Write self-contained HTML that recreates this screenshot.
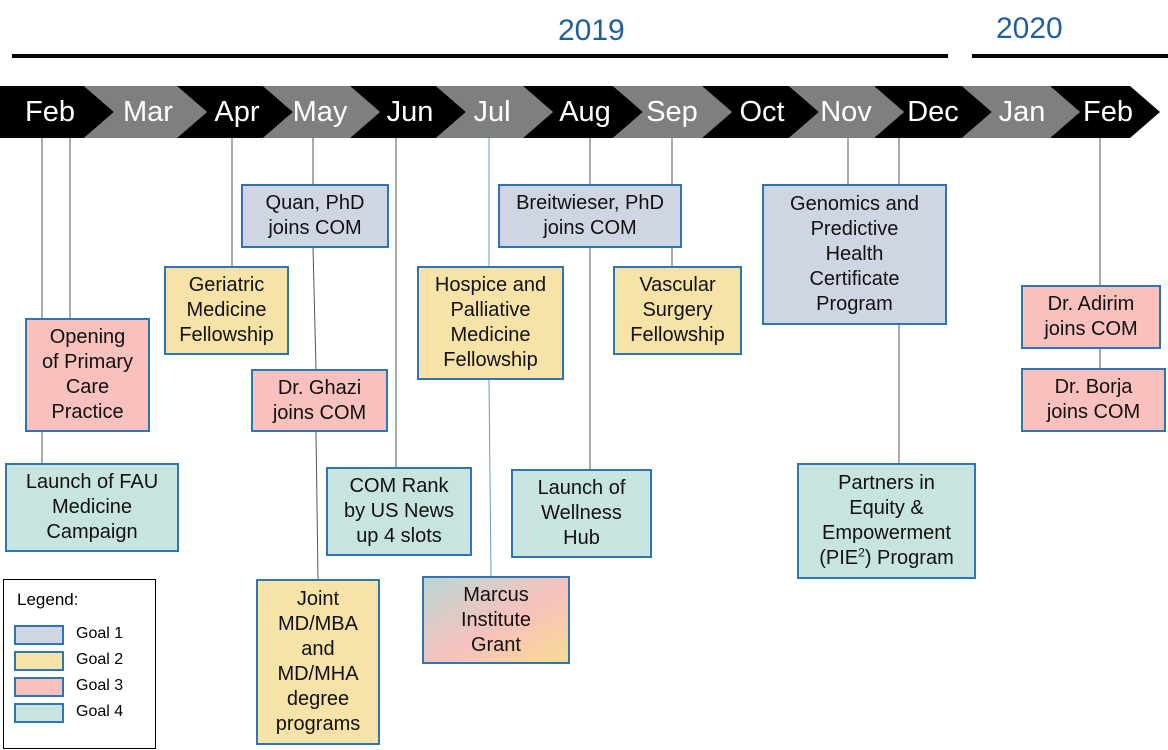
<!DOCTYPE html>
<html><head><meta charset="utf-8"><style>
body{margin:0;width:1168px;height:750px;background:#fff;position:relative;overflow:hidden;font-family:"Liberation Sans",Arial,sans-serif}
.b{position:absolute;box-sizing:border-box;border:2px solid #2e75b6;display:flex;align-items:center;justify-content:center;text-align:center;font-size:20px;line-height:25px;color:#111}
.g1{background:#cfd5e3}.g2{background:#f7e2a8}.g3{background:#f8c1bd}.g4{background:#c8e4de}
.yr{position:absolute;font-size:30px;color:#1f5f9e}
.lg{position:absolute;left:3px;top:579px;width:153px;height:170px;box-sizing:border-box;border:1.5px solid #000;font-size:17px}
.sw{position:absolute;left:10px;width:50px;height:20px;box-sizing:border-box;border:2px solid #2e75b6}
.st{position:absolute;left:72px;font-size:16px}
</style></head><body>
<div class="yr" style="left:558px;top:14px">2019</div>
<div class="yr" style="left:996px;top:12px">2020</div>
<svg width="1168" height="750" style="position:absolute;left:0;top:0">
<rect x="12" y="54" width="936" height="4" fill="#000"/>
<rect x="972" y="54" width="196" height="4" fill="#000"/>
<g id="ch"></g>
<g stroke="#555" stroke-width="1">
<line x1="42" y1="138" x2="42" y2="318"/><line x1="42" y1="432" x2="42" y2="463"/>
<line x1="70" y1="138" x2="70" y2="318"/>
<line x1="232" y1="138" x2="232" y2="266"/>
<line x1="313" y1="138" x2="313" y2="184"/><line x1="313" y1="248" x2="316" y2="369"/><line x1="316" y1="432" x2="318" y2="579"/>
<line x1="396" y1="138" x2="396" y2="467"/>
<line x1="489" y1="138" x2="489" y2="266" stroke="#6a9ac8"/><line x1="489" y1="380" x2="491" y2="576" stroke="#6a9ac8"/>
<line x1="590" y1="138" x2="590" y2="184"/><line x1="590" y1="248" x2="590" y2="469"/>
<line x1="672" y1="138" x2="672" y2="184"/><line x1="672" y1="248" x2="672" y2="266"/>
<line x1="848" y1="138" x2="848" y2="184"/>
<line x1="899" y1="138" x2="899" y2="184"/><line x1="899" y1="325" x2="899" y2="463"/>
<line x1="1100" y1="138" x2="1100" y2="285"/><line x1="1100" y1="349" x2="1100" y2="368"/>
</g>
<defs><linearGradient id="mg" x1="0" y1="0" x2="1" y2="1"><stop offset="0" stop-color="#b8d8d4"/><stop offset="0.55" stop-color="#f8c1bd"/><stop offset="1" stop-color="#f6dc90"/></linearGradient></defs>
<rect x="423" y="577" width="146" height="86" fill="url(#mg)" stroke="#2e75b6" stroke-width="2"/>
</svg>
<script>
var b=[-20,99,192,278,365,451,538,628,717,804,889,977,1065,1145];
var m=["Feb","Mar","Apr","May","Jun","Jul","Aug","Sep","Oct","Nov","Dec","Jan","Feb"];
var lx=[50,148,237,320,410,492,585,672,762,846,933,1022,1108];
var s="";
for(var i=0;i<13;i++){var L=b[i],R=b[i+1],c=i%2?"#7f7f7f":"#000";
s+='<polygon fill="'+c+'" points="'+(L-15)+',86 '+(R-15)+',86 '+(R+15)+',112 '+(R-15)+',138 '+(L-15)+',138 '+(L+15)+',112"/>';
s+='<text x="'+lx[i]+'" y="121" fill="#fff" font-size="29" text-anchor="middle" font-family="Liberation Sans,sans-serif">'+m[i]+'</text>';}
document.getElementById("ch").innerHTML=s;
</script>
<div class="b g1" style="left:241px;top:184px;width:148px;height:64px"><div>Quan, PhD<br>joins COM</div></div>
<div class="b g2" style="left:164px;top:266px;width:125px;height:89px"><div>Geriatric<br>Medicine<br>Fellowship</div></div>
<div class="b g3" style="left:25px;top:318px;width:125px;height:114px"><div>Opening<br>of Primary<br>Care<br>Practice</div></div>
<div class="b g4" style="left:5px;top:463px;width:174px;height:89px"><div>Launch of FAU<br>Medicine<br>Campaign</div></div>
<div class="b g3" style="left:251px;top:369px;width:137px;height:63px"><div>Dr. Ghazi<br>joins COM</div></div>
<div class="b g4" style="left:326px;top:467px;width:146px;height:89px"><div>COM Rank<br>by US News<br>up 4 slots</div></div>
<div class="b g2" style="left:256px;top:579px;width:124px;height:166px"><div>Joint<br>MD/MBA<br>and<br>MD/MHA<br>degree<br>programs</div></div>
<div class="b g1" style="left:498px;top:184px;width:184px;height:64px"><div>Breitwieser, PhD<br>joins COM</div></div>
<div class="b g2" style="left:417px;top:266px;width:147px;height:114px"><div>Hospice and<br>Palliative<br>Medicine<br>Fellowship</div></div>
<div class="b g2" style="left:613px;top:266px;width:129px;height:89px"><div>Vascular<br>Surgery<br>Fellowship</div></div>
<div class="b g4" style="left:511px;top:469px;width:141px;height:89px"><div>Launch of<br>Wellness<br>Hub</div></div>
<div class="b" style="left:422px;top:576px;width:148px;height:88px;border:none"><div>Marcus<br>Institute<br>Grant</div></div>
<div class="b g1" style="left:762px;top:184px;width:185px;height:141px"><div>Genomics and<br>Predictive<br>Health<br>Certificate<br>Program</div></div>
<div class="b g4" style="left:797px;top:463px;width:179px;height:116px"><div>Partners in<br>Equity &amp;<br>Empowerment<br>(PIE<sup style="font-size:12px;line-height:0">2</sup>) Program</div></div>
<div class="b g3" style="left:1021px;top:285px;width:140px;height:64px"><div>Dr. Adirim<br>joins COM</div></div>
<div class="b g3" style="left:1021px;top:368px;width:145px;height:64px"><div>Dr. Borja<br>joins COM</div></div>
<div class="lg">
<div style="position:absolute;left:13px;top:10px">Legend:</div>
<div class="sw g1" style="top:45px"></div><div class="st" style="top:45px">Goal 1</div>
<div class="sw g2" style="top:71px"></div><div class="st" style="top:71px">Goal 2</div>
<div class="sw g3" style="top:97px"></div><div class="st" style="top:97px">Goal 3</div>
<div class="sw g4" style="top:123px"></div><div class="st" style="top:123px">Goal 4</div>
</div>
</body></html>
